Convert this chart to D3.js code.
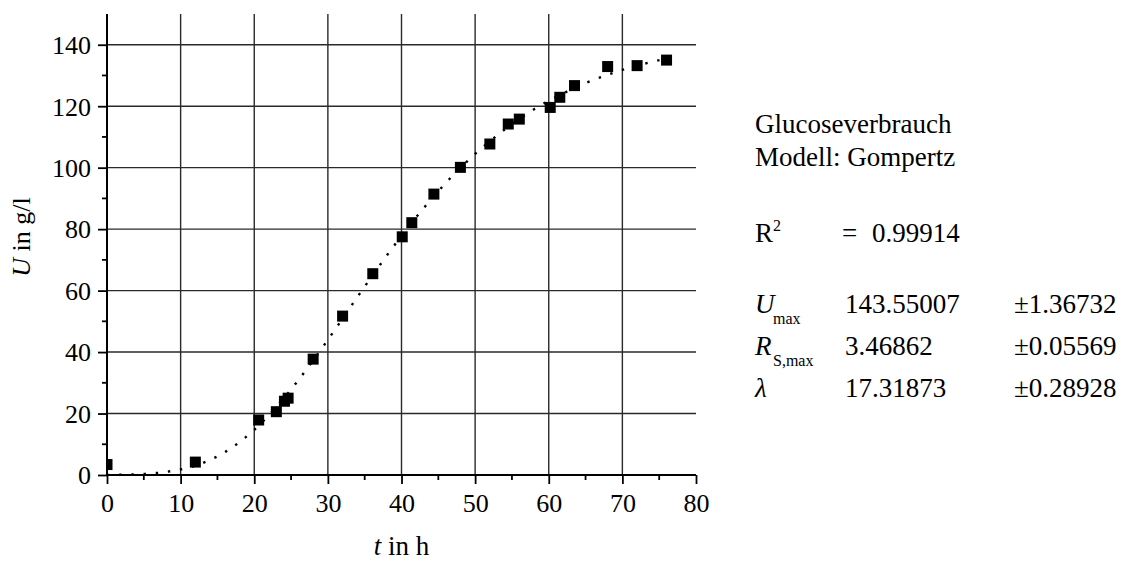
<!DOCTYPE html>
<html>
<head>
<meta charset="utf-8">
<script src="https://cdn.jsdelivr.net/npm/d3@7/dist/d3.min.js"></script>
<style>
  body { margin: 0; background: #fff; }
  svg { font-family: "Liberation Serif", "Times New Roman", serif; }
</style>
</head>
<body>
<svg id="chart" width="1125" height="561"></svg>
<script>
// measured points: time in h, glucose used in g/l
var tHours = [0, 12, 20.6, 23, 24.1, 24.6, 28, 32, 36.1, 40.1, 41.4, 44.4, 48, 52, 54.5, 56, 60.2, 61.5, 63.5, 68, 72, 76];
var uValues = [3.4, 4.2, 17.9, 20.6, 24.0, 25.0, 37.7, 51.7, 65.5, 77.5, 82.1, 91.4, 100.1, 107.7, 114.2, 115.8, 119.6, 122.9, 126.7, 132.9, 133.2, 135.0];

// dotted fit curve, every 2 h
var fitT = [0, 2, 4, 6, 8, 10, 12, 14, 16, 18, 20, 22, 24, 26, 28, 30, 32, 34, 36, 38,
            40, 42, 44, 46, 48, 50, 52, 54, 56, 58, 60, 62, 64, 66, 68, 70, 72, 74, 76];
var fitU = [0.0, 0.1, 0.2, 0.5, 1.0, 1.8, 3.0, 4.9, 7.4, 10.7, 14.7, 19.5, 24.9, 30.9, 37.3, 44.0, 50.9, 57.9, 64.7, 71.4,
            77.8, 83.9, 89.6, 95.0, 99.9, 104.5, 108.6, 112.4, 115.9, 119.0, 121.8, 124.2, 126.5, 128.5, 130.2, 131.8, 133.2, 134.4, 135.5];

var xTicks = [0, 10, 20, 30, 40, 50, 60, 70, 80];
var yTicks = [0, 20, 40, 60, 80, 100, 120, 140];
var xMinor = [5, 15, 25, 35, 45, 55, 65, 75];
var yMinor = [10, 30, 50, 70, 90, 110, 130];

var legendHead = ["Glucoseverbrauch", "Modell: Gompertz"];
var r2Text = "0.99914";
var paramNames = ["U", "R", "\u03bb"];
var paramSubs = ["max", "S,max", ""];
var paramValues = ["143.55007", "3.46862", "17.31873"];
var paramErrors = ["\u00b11.36732", "\u00b10.05569", "\u00b10.28928"];

var svg = d3.select("#chart");
var pl = 107, pr = 696, pt = 14, pb = 475;

var x = d3.scaleLinear().domain([0, 80]).range([pl, pr]);
var y = d3.scaleLinear().domain([0, 150]).range([pb, pt]);

svg.append("defs").append("clipPath").attr("id", "plotclip")
  .append("rect").attr("x", pl).attr("y", pt).attr("width", pr - pl).attr("height", pb - pt);

// grid
var grid = svg.append("g").attr("stroke", "#2a2a2a").attr("stroke-width", 1.4);
grid.selectAll(".vg").data(xTicks.slice(1, -1)).enter().append("line")
  .attr("x1", function(d) { return x(d); }).attr("x2", function(d) { return x(d); })
  .attr("y1", y(150)).attr("y2", y(0));
grid.selectAll(".hg").data(yTicks.slice(1)).enter().append("line")
  .attr("x1", x(0)).attr("x2", x(80))
  .attr("y1", function(d) { return y(d); }).attr("y2", function(d) { return y(d); });

var plot = svg.append("g").attr("clip-path", "url(#plotclip)");

var line = d3.line()
  .x(function(d, i) { return x(fitT[i]); })
  .y(function(d) { return y(d); })
  .curve(d3.curveMonotoneX);

plot.append("path").datum(fitU)
  .attr("d", line)
  .attr("fill", "none")
  .attr("stroke", "#000")
  .attr("stroke-width", 2.4)
  .attr("stroke-dasharray", "2.4 9.8");

var sq = 11;
plot.selectAll(".pt").data(tHours).enter().append("rect")
  .attr("x", function(d) { return x(d) - sq / 2; })
  .attr("y", function(d, i) { return y(uValues[i]) - sq / 2; })
  .attr("width", sq).attr("height", sq)
  .attr("fill", "#000");

// axes
var xAxis = svg.append("g").attr("transform", "translate(0," + pb + ")")
  .call(d3.axisBottom(x).tickValues(xTicks).tickSize(9).tickFormat(d3.format("d")));
var yAxis = svg.append("g").attr("transform", "translate(" + pl + ",0)")
  .call(d3.axisLeft(y).tickValues(yTicks).tickSize(9).tickFormat(d3.format("d")));

xAxis.append("g").selectAll("line").data(xMinor).enter().append("line")
  .attr("x1", function(d) { return x(d); }).attr("x2", function(d) { return x(d); })
  .attr("y1", 0).attr("y2", 5);
yAxis.append("g").selectAll("line").data(yMinor).enter().append("line")
  .attr("y1", function(d) { return y(d); }).attr("y2", function(d) { return y(d); })
  .attr("x1", 0).attr("x2", -5);

[xAxis, yAxis].forEach(function(a) {
  a.attr("font-family", null);
  a.select(".domain").attr("stroke", "#000").attr("stroke-width", 2);
  a.selectAll("line").attr("stroke", "#000").attr("stroke-width", 1.8);
  a.selectAll("text").attr("font-size", 26).attr("fill", "#000");
});
xAxis.select(".domain").attr("d", "M" + pl + ",0H" + pr);
yAxis.select(".domain").attr("d", "M0," + pt + "V" + pb);
xAxis.selectAll(".tick text").attr("y", 37).attr("dy", 0);
yAxis.selectAll(".tick text").attr("x", -16).attr("dy", "0.34em");

// axis titles
var xt = svg.append("text").attr("x", (pl + pr) / 2).attr("y", 555)
  .attr("text-anchor", "middle").attr("font-size", 27);
xt.append("tspan").attr("font-style", "italic").text("t");
xt.append("tspan").text(" in h");

var yt = svg.append("text").attr("transform", "translate(30,237) rotate(-90)")
  .attr("text-anchor", "middle").attr("font-size", 26);
yt.append("tspan").attr("font-style", "italic").text("U");
yt.append("tspan").text(" in g/l");

// legend block
var lx = 755, vx = 845, ex = 1014;
var leg = svg.append("g").attr("font-size", 27).attr("fill", "#000");
var headY = [133, 166];
legendHead.forEach(function(s, i) {
  leg.append("text").attr("x", lx).attr("y", headY[i]).text(s);
});
leg.append("text").attr("x", lx).attr("y", 242).text("R");
leg.append("text").attr("x", 773).attr("y", 231).attr("font-size", 16).text("2");
leg.append("text").attr("x", 842).attr("y", 242).text("=");
leg.append("text").attr("x", 872).attr("y", 242).text(r2Text);

var rowY = [313, 355, 397];
paramNames.forEach(function(n, i) {
  leg.append("text").attr("x", lx).attr("y", rowY[i]).attr("font-style", "italic").text(n);
  if (paramSubs[i]) {
    leg.append("text").attr("x", 773).attr("y", rowY[i] + 11).attr("font-size", 16).text(paramSubs[i]);
  }
  leg.append("text").attr("x", vx).attr("y", rowY[i]).text(paramValues[i]);
  leg.append("text").attr("x", ex).attr("y", rowY[i]).text(paramErrors[i]);
});
</script>
</body>
</html>
